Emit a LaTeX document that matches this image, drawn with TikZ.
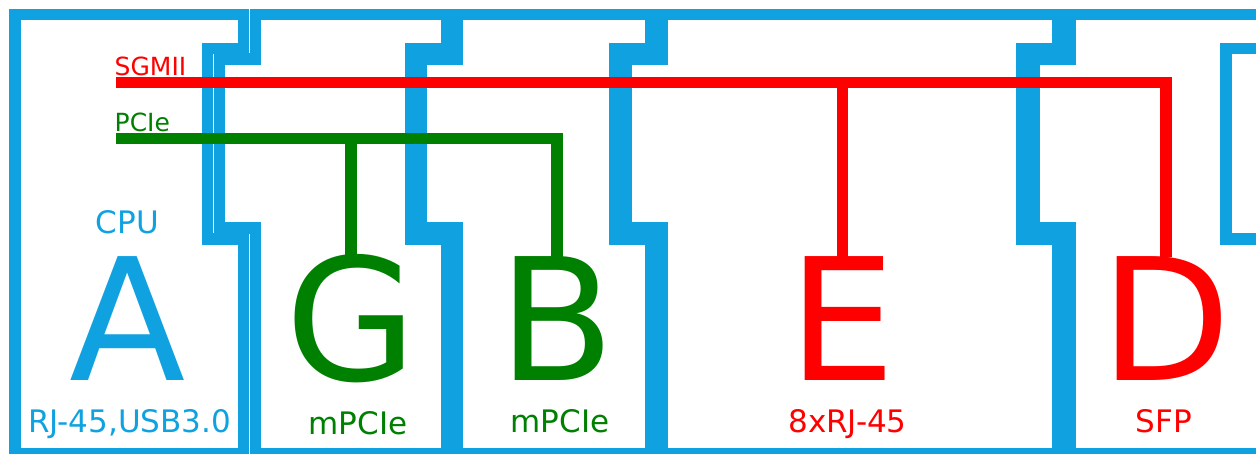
\documentclass[tikz,border=0pt]{standalone}
\usepackage{fontspec}
\setmainfont{DejaVu Sans}
\usetikzlibrary{positioning}
\definecolor{moxblue}{HTML}{10A2E0}
\definecolor{moxgreen}{HTML}{008000}
\definecolor{moxred}{HTML}{FF0000}

\begin{document}
\begin{tikzpicture}[x=1pt,y=-1pt]
	\tikzset{board/.style={draw=moxblue, line width=11.5pt},
		bus/.style={line width=11.5pt},
		letter/.style={inner sep=0pt, anchor=base, font=\fontsize{170}{170}\selectfont},
		tag/.style={inner sep=0pt, font=\fontsize{31}{31}\selectfont},
		wire/.style={inner sep=0pt, font=\fontsize{25}{25}\selectfont}}
	\useasboundingbox (0,0) rectangle (1256,454);

	% boards
	\draw[board] (15,454) -- (15,14.5) -- (243.5,14.5) -- (243.5,48.5) -- (207.5,48.5) -- (207.5,239) -- (243.5,239) -- (243.5,454) -- cycle;
	\foreach \lx/\rx in {255.5/447, 457.5/651, 662.5/1058, 1070/1262}
		\draw[board] (\lx,454) -- (\lx,228) -- ({\lx-36},228) -- ({\lx-36},59) -- (\lx,59) -- (\lx,14.5) -- (\rx,14.5) -- (\rx,48.5) -- ({\rx-36},48.5) -- ({\rx-36},239) -- (\rx,239) -- (\rx,454) -- cycle;

	% modules
	\node[letter, text=moxblue] (A) at (127.5,381) {A};
	\node[letter, text=moxgreen] (G) at (351,381) {G};
	\node[letter, text=moxgreen] (B) at (557,381) {B};
	\node[letter, text=moxred] (E) at (842.5,381) {E};
	\node[letter, text=moxred] (D) at (1166,381) {D};

	\node[tag, text=moxblue, above=23pt of A] (cpu) {CPU};
	\node[tag, text=moxblue, below=28pt of A, xshift=2pt] (aports) {RJ-45,USB3.0};
	\node[tag, text=moxgreen, below=28pt of G, xshift=7pt] (gports) {mPCIe};
	\node[tag, text=moxgreen, below=28pt of B, xshift=3pt] (bports) {mPCIe};
	\node[tag, text=moxred, below=28pt of E, xshift=5pt] (eports) {8xRJ-45};
	\node[tag, text=moxred, below=28pt of D, xshift=-2pt] (dports) {SFP};

	% buses
	\coordinate (sgmii) at (116,82.5);
	\coordinate (pcie) at (116,138.5);
	\node[wire, text=moxred, above right=6pt and -1.5pt of sgmii] (sgmiilbl) {SGMII};
	\node[wire, text=moxgreen, above right=6pt and -1.5pt of pcie] (pcielbl) {PCIe};

	\draw[bus, moxred] (sgmii) -| (D.north);
	\draw[bus, moxred] (sgmii -| E.north) -- (E.north);
	\draw[bus, moxgreen] (pcie) -| (B.north);
	\draw[bus, moxgreen] (pcie -| G.north) -- (G.north);
\end{tikzpicture}
\end{document}
